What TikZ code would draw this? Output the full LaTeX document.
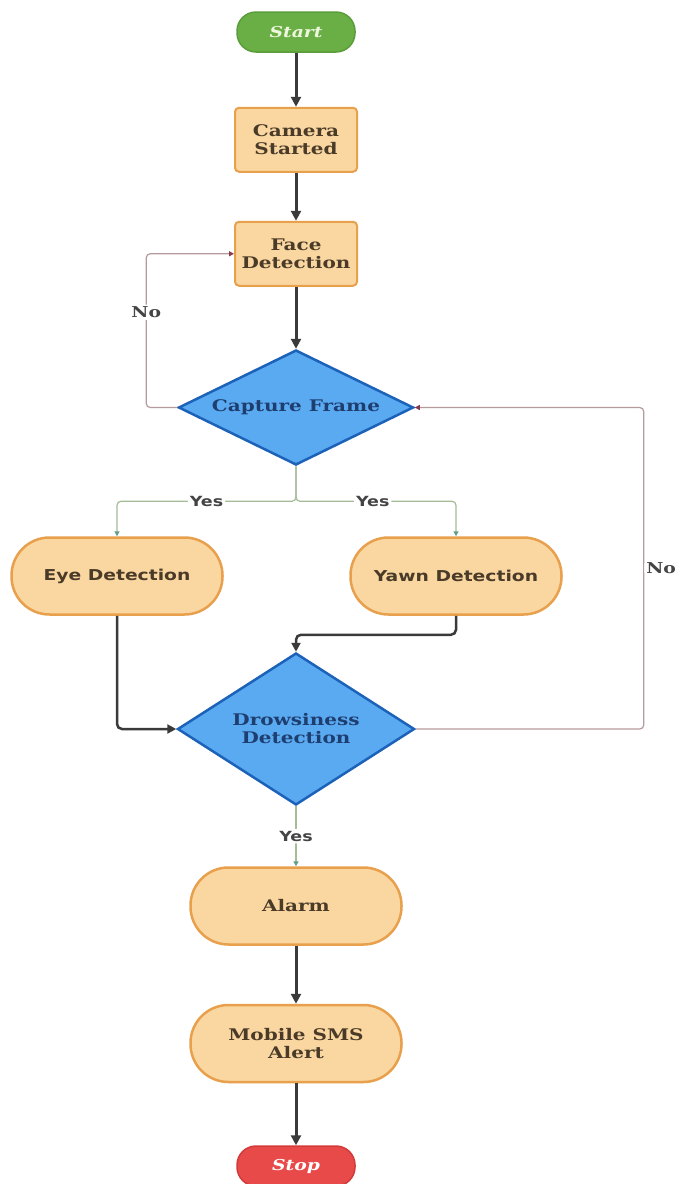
\documentclass[tikz,border=0pt]{standalone}
\usepackage{fontspec}
\newfontfamily\slabfont[FakeStretch=1.25]{DejaVu Serif}
\newfontfamily\plainsans[FakeStretch=1.25]{DejaVu Sans}
\usepackage{tikz}
\usetikzlibrary{arrows.meta,positioning,shapes.geometric}
\usepackage{xcolor}
\definecolor{StartFill}{HTML}{6AAF45}
\definecolor{StartLine}{HTML}{5B9C3B}
\definecolor{StartText}{HTML}{EEF7DD}
\definecolor{StopFill}{HTML}{E84A4A}
\definecolor{StopLine}{HTML}{D33B3B}
\definecolor{BoxFill}{HTML}{FAD7A1}
\definecolor{BoxLine}{HTML}{E8A04C}
\definecolor{BoxText}{HTML}{4A3A28}
\definecolor{DiaFill}{HTML}{5AAAF2}
\definecolor{DiaLine}{HTML}{1B62B8}
\definecolor{DiaText}{HTML}{1E3E70}
\definecolor{FlowDark}{HTML}{3A3A3A}
\definecolor{YesLine}{HTML}{A6BB98}
\definecolor{YesTip}{HTML}{5E9E8A}
\definecolor{NoLine}{HTML}{B79A9E}
\definecolor{NoTip}{HTML}{8A3B4B}
\definecolor{LabelGray}{HTML}{444444}
\tikzset{
  terminal/.style={rounded corners=19pt, line width=1.5pt, minimum width=118pt, minimum height=40pt, inner sep=0pt, font=\slabfont\bfseries\itshape\fontsize{15}{17}\selectfont},
  termgreen/.style={terminal, draw=StartLine, fill=StartFill, text=StartText},
  termred/.style={terminal, draw=StopLine, fill=StopFill, text=white},
  procbox/.style={rounded corners=4pt, draw=BoxLine, fill=BoxFill, line width=2pt, text=BoxText, align=center, minimum width=122pt, minimum height=64pt, inner sep=0pt, font=\slabfont\bfseries\fontsize{16}{18}\selectfont},
  pill/.style={procbox, rounded corners=38pt, minimum width=211pt, minimum height=77pt, line width=2.5pt},
  pillsans/.style={pill, font=\plainsans\bfseries\fontsize{15}{18}\selectfont},
  decision/.style={diamond, draw=DiaLine, fill=DiaFill, line width=2.5pt, text=DiaText, align=center, inner sep=0pt, font=\slabfont\bfseries\fontsize{16}{18}\selectfont},
  arrow/.style={-{Triangle[width=10pt,length=10pt]}, line width=3pt, draw=FlowDark},
  elbow/.style={-{Triangle[width=9pt,length=9pt]}, line width=2.5pt, draw=FlowDark, rounded corners=5pt},
  yesline/.style={-{Triangle[width=5pt,length=5pt,color=YesTip]}, line width=1.2pt, draw=YesLine, rounded corners=4pt},
  noline/.style={-{Triangle[width=5pt,length=5pt,color=NoTip]}, line width=1.2pt, draw=NoLine, rounded corners=4pt},
  yeslabel/.style={fill=white, inner sep=2pt, text=LabelGray, font=\plainsans\bfseries\fontsize{14}{16}\selectfont},
  nolabel/.style={fill=white, inner sep=2pt, text=LabelGray, font=\slabfont\bfseries\fontsize{15}{17}\selectfont}
}
\begin{document}
\begin{tikzpicture}[x=1pt, y=-1pt]
\fill[white] (0,0) rectangle (677,1184);
\useasboundingbox (0,0) rectangle (677,1184);
\node[termgreen] (start) at (296,32) {Start};
\node[procbox, below=54pt of start] (cam) {Camera\\Started};
\node[procbox, below=48pt of cam] (face) {Face\\Detection};
\node[decision, below=62pt of face, aspect=2.04, minimum width=235pt, minimum height=115pt] (capture) {Capture Frame};
\node[pillsans] (eye) at (117,576) {Eye Detection};
\node[pillsans] (yawn) at (456,576) {Yawn Detection};
\node[decision, aspect=1.56, minimum width=237pt, minimum height=152pt] (drowsy) at (296,729) {Drowsiness\\Detection};
\node[pill, below=60pt of drowsy] (alarm) {Alarm};
\node[pill, below=58pt of alarm] (sms) {Mobile SMS\\Alert};
\node[termred, below=62pt of sms] (stop) {Stop};
\foreach \a/\b in {start/cam,cam/face,face/capture,alarm/sms,sms/stop} \draw[arrow] (\a) -- (\b);
\draw[noline] (capture.west) -- ++(-31,0) |- node[nolabel, pos=0.31]{No} (face.west);
\draw[yesline] (capture.south) -- ++(0,35) -| node[yeslabel, pos=0.25]{Yes} (eye.north);
\draw[yesline] (capture.south) -- ++(0,35) -| node[yeslabel, pos=0.24]{Yes} (yawn.north);
\draw[elbow] (yawn.south) -- ++(0,19) -| (drowsy.north);
\draw[elbow] (eye.south) |- (drowsy.west);
\draw[noline] (drowsy.east) -- ++(228,0) |- node[nolabel, right, pos=0.25]{No} (capture.east);
\draw[yesline] (drowsy.south) -- node[yeslabel]{Yes} (alarm.north);
\end{tikzpicture}
\end{document}
